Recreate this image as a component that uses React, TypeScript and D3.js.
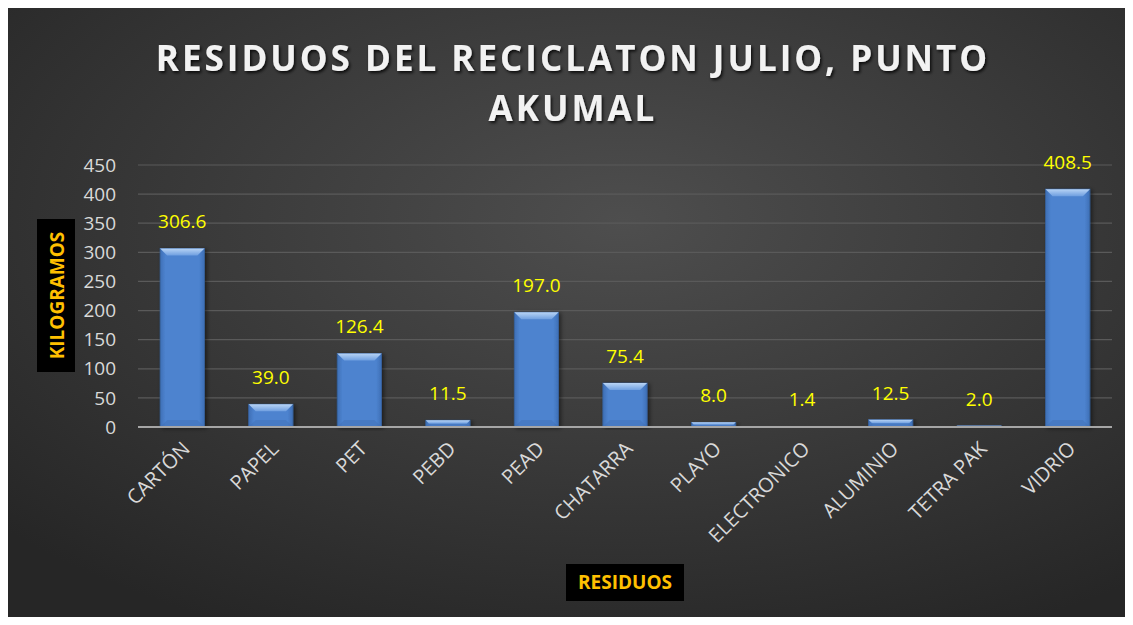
import React from "react";
import * as d3 from "d3";

const categories = ["CARTÓN", "PAPEL", "PET", "PEBD", "PEAD", "CHATARRA", "PLAYO", "ELECTRONICO", "ALUMINIO", "TETRA PAK", "VIDRIO"];
const values = [306.6, 39.0, 126.4, 11.5, 197.0, 75.4, 8.0, 1.4, 12.5, 2.0, 408.5];
const yTicks = [0, 50, 100, 150, 200, 250, 300, 350, 400, 450];
const titleLines = ["RESIDUOS DEL RECICLATON JULIO, PUNTO", "AKUMAL"];
const yAxisTitle = "KILOGRAMOS";
const xAxisTitle = "RESIDUOS";

const W = 1133, H = 625;
const plot = { left: 138, right: 1112, top: 165, bottom: 427 };

export default function App() {
  const x = d3.scaleBand<string>().domain(categories).range([plot.left, plot.right]).paddingInner(0.5).paddingOuter(0.25);
  const y = d3.scaleLinear().domain([0, 450]).range([plot.bottom, plot.top]);
  const bw = x.bandwidth();
  const font = "'Open Sans', sans-serif";
  return (
    <div style={{ margin: -8 }}>
      <svg width={W} height={H} style={{ display: "block" }}>
        <defs>
          <radialGradient id="bg" cx="0.55" cy="0.35" r="0.75">
            <stop offset="0" stopColor="#4e4e4e" />
            <stop offset="1" stopColor="#262626" />
          </radialGradient>
          <linearGradient id="barG" x1="0" x2="1" y1="0" y2="0">
            <stop offset="0" stopColor="#3e6fb6" />
            <stop offset="0.12" stopColor="#4d83cf" />
            <stop offset="0.88" stopColor="#4d83cf" />
            <stop offset="1" stopColor="#3e6fb6" />
          </linearGradient>
          <linearGradient id="bevel" x1="0" x2="0" y1="0" y2="1">
            <stop offset="0" stopColor="#b8d4f5" />
            <stop offset="1" stopColor="#6f9fe0" />
          </linearGradient>
          <filter id="ts" x="-10%" y="-20%" width="120%" height="150%">
            <feDropShadow dx="1.5" dy="2" stdDeviation="1.5" floodColor="#000" floodOpacity="0.8" />
          </filter>
          <filter id="bs" x="-20%" y="-5%" width="140%" height="110%">
            <feDropShadow dx="2" dy="1" stdDeviation="2" floodColor="#000" floodOpacity="0.5" />
          </filter>
        </defs>
        <rect x={0} y={0} width={W} height={H} fill="#fff" />
        <rect x={8} y={8} width={1117} height={609} fill="url(#bg)" />
        {titleLines.map((t, i) => (
          <text key={t} x={573} y={71 + i * 50} textAnchor="middle" fill="#f2f2f2" fontFamily={font} fontWeight={700} fontSize={35} letterSpacing={3} filter="url(#ts)">{t}</text>
        ))}
        {yTicks.map((t) => (
          <g key={t}>
            {t > 0 && <line x1={plot.left} x2={plot.right} y1={y(t)} y2={y(t)} stroke="#5a5a5a" strokeWidth={1.2} />}
            <text x={116} y={y(t)} dy="0.35em" textAnchor="end" fill="#d9d9d9" fontFamily={font} fontSize={19}>{t}</text>
          </g>
        ))}
        {categories.map((c, i) => {
          const x0 = x(c)!;
          const y0 = y(values[i]);
          const h = plot.bottom - y0;
          const b = Math.min(7, h / 2, bw / 4);
          return (
            <g key={c}>
              <g filter="url(#bs)">
                <rect x={x0} y={y0} width={bw} height={h} fill="url(#barG)" stroke="#37629f" strokeWidth={0.8} />
              </g>
              <polygon points={`${x0},${y0} ${x0 + bw},${y0} ${x0 + bw - b},${y0 + b} ${x0 + b},${y0 + b}`} fill="url(#bevel)" />
              <polygon points={`${x0},${plot.bottom} ${x0 + bw},${plot.bottom} ${x0 + bw - b},${plot.bottom - b} ${x0 + b},${plot.bottom - b}`} fill="#3a68a8" opacity={0.3} />
              <text x={x0 + bw / 2} y={y0 - 20} textAnchor="middle" fill="#ffff00" fontFamily={font} fontSize={19}>{values[i].toFixed(1)}</text>
              <text transform={`translate(${x0 + bw / 2 + 9},${plot.bottom + 23}) rotate(-45)`} textAnchor="end" fill="#d9d9d9" fontFamily={font} fontSize={20}>{c}</text>
            </g>
          );
        })}
        <line x1={plot.left} x2={plot.right} y1={plot.bottom} y2={plot.bottom} stroke="#a6a6a6" strokeWidth={2} />
        <rect x={37} y={219} width={38} height={153} fill="#000" />
        <text transform={`translate(64,${(219 + 372) / 2}) rotate(-90)`} textAnchor="middle" fill="#ffc000" fontFamily={font} fontWeight={700} fontSize={19}>{yAxisTitle}</text>
        <rect x={566} y={564} width={118} height={37} fill="#000" />
        <text x={625} y={589} textAnchor="middle" fill="#ffc000" fontFamily={font} fontWeight={700} fontSize={19}>{xAxisTitle}</text>
      </svg>
    </div>
  );
}
